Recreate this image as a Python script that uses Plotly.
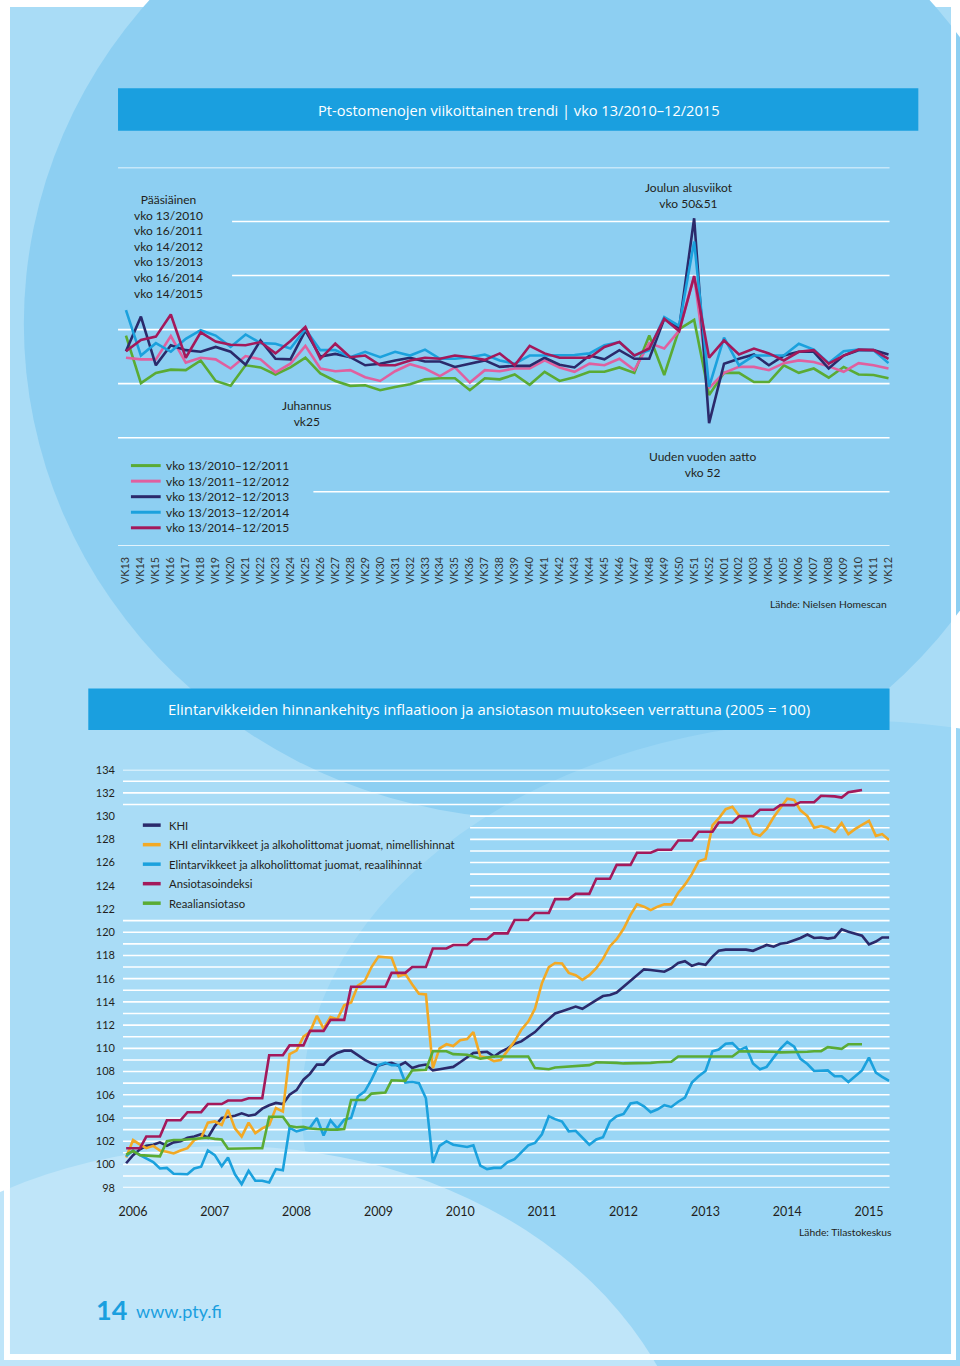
import plotly.graph_objects as go
import pandas as pd

W, H = 960, 1366


def fx(x):
    return x / W


def fy(y):
    return 1 - y / H


# ---------------- data: weekly trend (index, no axis values shown) ----------------
weeks = ["VK13", "VK14", "VK15", "VK16", "VK17", "VK18", "VK19", "VK20", "VK21", "VK22",
         "VK23", "VK24", "VK25", "VK26", "VK27", "VK28", "VK29", "VK30", "VK31", "VK32",
         "VK33", "VK34", "VK35", "VK36", "VK37", "VK38", "VK39", "VK40", "VK41", "VK42",
         "VK43", "VK44", "VK45", "VK46", "VK47", "VK48", "VK49", "VK50", "VK51", "VK52",
         "VK01", "VK02", "VK03", "VK04", "VK05", "VK06", "VK07", "VK08", "VK09", "VK10",
         "VK11", "VK12"]

wk_2010_11 = [98.9, 90.1, 92.0, 92.6, 92.5, 94.3, 90.5, 89.6, 93.4, 93.0, 91.7, 93.0, 94.8,
              91.9, 90.5, 89.6, 89.7, 88.8, 89.4, 89.9, 90.8, 91.0, 91.0, 88.8, 91.0, 90.8,
              91.7, 89.8, 92.2, 90.5, 91.2, 92.2, 92.2, 93.0, 92.0, 98.9, 91.6, 100.1, 101.8,
              87.9, 92.0, 92.0, 90.3, 90.3, 93.4, 92.0, 92.8, 91.1, 93.1, 91.7, 91.6, 91.0]
wk_2011_12 = [94.8, 94.5, 94.5, 98.8, 93.9, 94.8, 94.5, 92.8, 95.1, 94.5, 92.1, 93.7, 97.0,
              92.8, 92.3, 92.5, 91.2, 90.5, 92.3, 93.6, 92.8, 91.4, 93.0, 90.2, 92.5, 92.3,
              92.8, 92.8, 94.3, 93.0, 92.2, 93.7, 93.4, 94.6, 92.5, 97.5, 96.5, 99.8, 109.9,
              89.2, 92.0, 93.1, 93.1, 92.5, 93.8, 94.3, 94.0, 93.2, 92.2, 93.8, 93.4, 92.8]
wk_2012_13 = [96.0, 102.4, 93.4, 97.1, 96.2, 95.9, 96.8, 95.9, 93.5, 98.0, 94.6, 94.5, 99.8,
              95.0, 95.5, 94.9, 93.4, 93.7, 94.3, 94.8, 94.1, 94.1, 93.1, 93.7, 94.3, 93.1,
              93.3, 93.3, 94.8, 93.5, 93.0, 95.2, 94.5, 96.2, 94.6, 94.6, 102.0, 100.3, 120.6,
              82.7, 93.7, 94.6, 95.4, 93.4, 95.2, 95.9, 95.9, 92.8, 95.2, 96.2, 96.2, 95.4]
wk_2013_14 = [103.6, 95.2, 97.5, 95.9, 98.3, 99.9, 98.9, 96.8, 99.1, 97.5, 97.4, 96.5, 100.1,
              96.2, 96.2, 94.9, 95.9, 94.9, 95.9, 95.2, 96.3, 94.6, 94.6, 94.9, 95.4, 94.3,
              93.7, 95.2, 95.2, 95.2, 95.3, 95.6, 97.1, 97.7, 95.2, 96.2, 102.3, 100.7, 116.3,
              89.4, 98.5, 93.4, 95.2, 95.2, 95.2, 97.4, 96.3, 93.8, 96.0, 96.3, 96.2, 93.8]
wk_2014_15 = [96.0, 98.1, 98.7, 102.8, 94.8, 99.5, 97.8, 97.2, 97.1, 97.7, 95.6, 97.9, 100.5,
              94.6, 97.4, 94.9, 95.2, 93.4, 93.4, 94.3, 94.8, 94.6, 95.2, 94.9, 94.4, 95.6,
              93.4, 97.0, 95.6, 94.8, 94.8, 94.8, 96.8, 97.7, 95.2, 96.5, 102.0, 99.7, 109.9,
              94.8, 98.0, 95.4, 96.5, 95.6, 94.3, 95.9, 96.2, 93.7, 95.2, 96.3, 96.2, 94.6]

week_series = [
    ("vko 13/2010–12/2011", wk_2010_11, "#5aab34"),
    ("vko 13/2011–12/2012", wk_2011_12, "#e0609f"),
    ("vko 13/2012–12/2013", wk_2012_13, "#2b2a6b"),
    ("vko 13/2013–12/2014", wk_2013_14, "#1ba1dd"),
    ("vko 13/2014–12/2015", wk_2014_15, "#a3195b"),
]

# ---------------- data: monthly indices 2005 = 100 ----------------
month_start = "2005-12-01"
years = ["2006", "2007", "2008", "2009", "2010", "2011", "2012", "2013", "2014", "2015"]

khi = [100.1, 100.8, 101.3, 101.6, 101.7, 101.9, 101.6, 101.9, 102.0, 102.3, 102.4, 102.6,
       102.3, 103.3, 104.0, 104.1, 104.2, 104.4, 104.2, 104.3, 104.8, 105.1, 105.3, 105.2,
       106.0, 106.4, 107.3, 107.8, 108.6, 108.6, 109.25, 109.6, 109.8, 109.8, 109.4, 109.0,
       108.7, 108.5, 108.7, 108.75, 108.5, 108.8, 108.3, 108.5, 108.6, 108.1, 108.2, 108.3,
       108.4, 108.8, 109.25, 109.6, 109.65, 109.7, 109.3, 109.7, 110.0, 110.4, 110.6, 111.0,
       111.4, 112.0, 112.5, 113.0, 113.2, 113.4, 113.6, 113.4, 113.8, 114.15, 114.5, 114.6,
       114.8, 115.3, 115.8, 116.3, 116.8, 116.75, 116.7, 116.6, 116.9, 117.35, 117.5, 117.1,
       117.3, 117.2, 117.9, 118.4, 118.5, 118.5, 118.5, 118.5, 118.4, 118.65, 118.9, 118.75,
       119.0, 119.1, 119.3, 119.5, 119.8, 119.5, 119.55, 119.45, 119.55, 120.25, 120.05, 119.9,
       119.7, 118.95, 119.2, 119.55, 119.55]
food_nominal = [100.6, 102.1, 101.7, 101.4, 101.6, 101.2, 101.1, 100.95, 101.2, 101.4, 102.1,
                102.3, 103.6, 103.7, 103.4, 104.7, 103.1, 102.4, 103.6, 102.7, 103.1, 103.4,
                104.85, 104.55, 109.5, 109.8, 111.0, 111.4, 112.8, 111.7, 112.7, 112.5, 113.7,
                113.95, 115.4, 115.8, 117.0, 117.9, 117.85, 117.8, 116.2, 116.4, 115.5, 114.7,
                114.65, 108.3, 110.0, 110.35, 110.2, 110.7, 110.8, 111.4, 109.3, 109.2, 108.9,
                109.0, 109.8, 110.6, 111.6, 112.3, 113.4, 115.6, 117.0, 117.35, 117.3, 116.5,
                116.3, 115.9, 116.3, 116.9, 117.7, 118.8, 119.4, 120.3, 121.5, 122.4, 122.2,
                121.9, 122.2, 122.4, 122.4, 123.4, 124.1, 125.0, 126.1, 126.3, 129.2, 129.8,
                130.6, 130.8, 130.0, 129.8, 128.5, 128.3, 128.9, 129.9, 130.7, 131.5, 131.4,
                130.5, 130.0, 129.0, 129.15, 129.0, 128.65, 129.4, 128.45, 128.9, 129.25, 129.6,
                128.3, 128.45, 127.95]
food_real = [100.7, 101.2, 100.8, 100.5, 100.2, 99.65, 99.7, 99.2, 99.15, 99.15, 99.65, 99.8,
             101.2, 100.8, 99.85, 100.6, 99.15, 98.3, 99.45, 98.6, 98.6, 98.45, 99.6, 99.5,
             103.15, 102.85, 103.0, 103.15, 104.0, 102.5, 103.8, 103.1, 103.85, 104.0, 105.85,
             106.3, 107.3, 108.55, 108.75, 108.55, 108.55, 107.05, 107.1, 107.0, 105.7, 100.15,
             101.6, 102.0, 101.7, 101.6, 101.5, 101.65, 99.9, 99.6, 99.7, 99.7, 100.2, 100.45,
             101.05, 101.65, 101.85, 102.6, 104.15, 103.9, 103.7, 102.85, 102.9, 102.3, 101.7,
             102.15, 102.35, 103.7, 104.15, 104.35, 105.25, 105.35, 105.0, 104.5, 104.75, 105.1,
             104.95, 105.4, 105.75, 107.05, 107.6, 108.05, 109.75, 109.9, 110.4, 110.45, 109.85,
             110.1, 108.7, 108.2, 108.4, 109.2, 109.95, 110.55, 110.15, 109.1, 108.65, 108.05,
             108.05, 108.1, 107.6, 107.6, 107.1, 107.6, 108.1, 109.2, 107.9, 107.55, 107.2]
earnings = [101.4, 101.4, 101.4, 102.4, 102.4, 102.4, 103.8, 103.8, 103.8, 104.5, 104.5, 104.5,
            105.2, 105.2, 105.2, 105.5, 105.5, 105.5, 105.7, 105.7, 105.7, 109.4, 109.4, 109.4,
            110.25, 110.25, 110.25, 111.5, 111.5, 111.5, 112.45, 112.45, 112.45, 115.3, 115.3,
            115.3, 115.3, 115.3, 115.3, 116.5, 116.5, 116.5, 117.0, 117.0, 117.0, 118.6, 118.6,
            118.6, 118.9, 118.9, 118.9, 119.4, 119.4, 119.4, 119.9, 119.9, 119.9, 121.05, 121.05,
            121.05, 121.65, 121.65, 121.65, 122.85, 122.85, 122.85, 123.3, 123.3, 123.3, 124.6,
            124.6, 124.6, 125.8, 125.8, 125.8, 126.85, 126.85, 126.85, 127.1, 127.1, 127.1,
            127.9, 127.9, 127.9, 128.65, 128.65, 128.65, 129.45, 129.45, 129.45, 130.0, 130.0,
            130.0, 130.55, 130.55, 130.55, 130.95, 130.95, 130.95, 131.2, 131.2, 131.2, 131.75,
            131.75, 131.7, 131.6, 132.05, 132.15, 132.25]
real_earnings = [100.85, 101.15, 100.8, 100.75, 100.7, 100.7, 102.0, 102.1, 102.1, 102.15,
                 102.2, 102.25, 102.3, 102.2, 102.15, 101.35, 101.35, 101.35, 101.4, 101.4,
                 101.4, 104.1, 104.1, 104.1, 103.3, 103.2, 103.25, 103.1, 103.05, 103.0, 103.0,
                 103.0, 103.05, 105.55, 105.55, 105.55, 106.1, 106.15, 106.2, 107.25, 107.2,
                 107.2, 108.1, 108.15, 108.15, 109.75, 109.75, 109.75, 109.5, 109.5, 109.45,
                 109.3, 109.1, 109.2, 109.3, 109.3, 109.3, 109.3, 109.3, 109.3, 108.3, 108.25,
                 108.2, 108.35, 108.4, 108.4, 108.45, 108.5, 108.55, 108.8, 108.8, 108.8, 108.75,
                 108.7, 108.7, 108.7, 108.75, 108.75, 108.8, 108.8, 108.85, 109.3, 109.3, 109.3,
                 109.3, 109.3, 109.3, 109.3, 109.3, 109.3, 109.75, 109.75, 109.75, 109.75, 109.7,
                 109.7, 109.65, 109.65, 109.65, 109.7, 109.7, 109.75, 109.75, 110.1, 110.05,
                 109.95, 110.35, 110.35, 110.35]

month_series = [
    ("KHI", khi, "#2b2a6b"),
    ("KHI elintarvikkeet ja alkoholittomat juomat, nimellishinnat", food_nominal, "#f2a925"),
    ("Elintarvikkeet ja alkoholittomat juomat, reaalihinnat", food_real, "#1ba1dd"),
    ("Ansiotasoindeksi", earnings, "#a3195b"),
    ("Reaaliansiotaso", real_earnings, "#5aab34"),
]

fig = go.Figure()

for name, vals, col in week_series:
    fig.add_trace(go.Scatter(x=weeks, y=vals, mode="lines", name=name,
                             line=dict(color=col, width=2.6), xaxis="x", yaxis="y",
                             showlegend=False, hoverinfo="skip"))

for name, vals, col in month_series:
    dates = pd.date_range(month_start, periods=len(vals), freq="MS")
    fig.add_trace(go.Scatter(x=dates, y=vals, mode="lines", name=name,
                             line=dict(color=col, width=2.6), xaxis="x2", yaxis="y2",
                             showlegend=False, hoverinfo="skip"))

TXT = "#231f20"
BODY = "Lato"

shapes = []
# page background
shapes.append(dict(type="rect", xref="paper", yref="paper", x0=fx(6), x1=fx(955), y0=fy(1360), y1=1,
                   fillcolor="#a9dcf6", line=dict(width=0), layer="below"))
shapes.append(dict(type="circle", xref="paper", yref="paper", x0=fx(20), x1=fx(1060), y0=fy(820),
                   y1=fy(-180), fillcolor="#8dcff2", line=dict(width=0), layer="below"))
shapes.append(dict(type="circle", xref="paper", yref="paper", x0=fx(300), x1=fx(1400), y0=fy(1500),
                   y1=fy(720), fillcolor="#9ad6f5", line=dict(width=0), layer="below"))
shapes.append(dict(type="circle", xref="paper", yref="paper", x0=fx(-250), x1=fx(700), y0=fy(1900),
                   y1=fy(1150), fillcolor="#bfe5f9", line=dict(width=0), layer="below"))
shapes.append(dict(type="rect", xref="paper", yref="paper", x0=0, x1=fx(6), y0=0, y1=1,
                   fillcolor="white", line=dict(width=0), layer="below"))
shapes.append(dict(type="rect", xref="paper", yref="paper", x0=fx(955), x1=1, y0=0, y1=1,
                   fillcolor="white", line=dict(width=0), layer="below"))
shapes.append(dict(type="rect", xref="paper", yref="paper", x0=0, x1=1, y0=0, y1=fy(1360),
                   fillcolor="white", line=dict(width=0), layer="below"))

# banners
BANNER = "#1a9fdf"
shapes.append(dict(type="rect", xref="paper", yref="paper", x0=fx(115), x1=fx(922), y0=fy(125),
                   y1=fy(82), fillcolor=BANNER, line=dict(width=0), layer="below"))
shapes.append(dict(type="rect", xref="paper", yref="paper", x0=fx(85), x1=fx(893), y0=fy(730),
                   y1=fy(688), fillcolor=BANNER, line=dict(width=0), layer="below"))

# top grid lines (some hidden behind text blocks)
top_grid = [(130, 115), (120, 230), (110, 230), (100, 115), (90, 115), (80, 115), (70, 312), (60, 115)]
for v, xs in top_grid:
    shapes.append(dict(type="line", xref="paper", yref="y", x0=fx(xs), x1=fx(893), y0=v, y1=v,
                       line=dict(color="white", width=1.6), layer="below"))
# bottom grid lines
for v in range(98, 135):
    xs = 470 if 122 <= v <= 130 else 120
    shapes.append(dict(type="line", xref="paper", yref="y2", x0=fx(xs), x1=fx(893), y0=v, y1=v,
                       line=dict(color="white", width=1.6), layer="below"))

annotations = []


def ann(x, y, text, size=12, color=TXT, xanchor="center", family=BODY, yanchor="middle"):
    annotations.append(dict(x=fx(x), y=fy(y), xref="paper", yref="paper", text=text,
                            showarrow=False, xanchor=xanchor, yanchor=yanchor,
                            align=xanchor if xanchor != "center" else "center",
                            font=dict(size=size, color=color, family=family)))


ann(519, 104, "Pt-ostomenojen viikoittainen trendi | vko 13/2010–12/2015", size=14.6, color="white",
    family="Open Sans")
ann(489, 709, "Elintarvikkeiden hinnankehitys inflaatioon ja ansiotason muutokseen verrattuna (2005 = 100)",
    size=14.9, color="white", family="Open Sans")

ann(166, 242, "Pääsiäinen<br>vko 13/2010<br>vko 16/2011<br>vko 14/2012<br>vko 13/2013<br>vko 16/2014<br>vko 14/2015",
    size=12)
ann(691, 190, "Joulun alusviikot<br>vko 50&51", size=12)
ann(306, 410, "Juhannus<br>vk25", size=12)
ann(704, 462, "Uuden vuoden aatto<br>vko 52", size=12)
ann(892, 603, "Lähde: Nielsen Homescan", size=10.3, xanchor="right")
ann(897, 1237, "Lähde: Tilastokeskus", size=10.3, xanchor="right")

# top legend
for i, (name, vals, col) in enumerate(week_series):
    yy = 463 + i * 15.7
    shapes.append(dict(type="line", xref="paper", yref="paper", x0=fx(128), x1=fx(158), y0=fy(yy), y1=fy(yy),
                       line=dict(color=col, width=3)))
    ann(161, yy, name, size=12, xanchor="left")

# bottom legend
for i, (name, vals, col) in enumerate(month_series):
    yy = 826 + i * 19.7
    shapes.append(dict(type="line", xref="paper", yref="paper", x0=fx(140), x1=fx(158), y0=fy(yy), y1=fy(yy),
                       line=dict(color=col, width=3.5)))
    ann(164, yy, name, size=11.3, xanchor="left")

# footer
ann(91, 1315, "<b>14</b>", size=27, color="#1a9fdf", xanchor="left", family="Lato")
ann(131, 1317, "www.pty.fi", size=18, color="#1a9fdf", xanchor="left", family="Lato")

fig.update_layout(
    width=W, height=H,
    margin=dict(l=0, r=0, t=0, b=0),
    paper_bgcolor="white",
    plot_bgcolor="rgba(0,0,0,0)",
    shapes=shapes,
    annotations=annotations,
    showlegend=False,
    font=dict(family=BODY, color=TXT),
    xaxis=dict(domain=[fx(115), fx(893)], type="category", range=[-0.53, 51.07],
               showgrid=False, zeroline=False, showline=False, ticks="",
               tickangle=-90, tickfont=dict(size=10.8, color="#333333", family=BODY),
               ticklabelstandoff=8, anchor="y"),
    yaxis=dict(domain=[fy(544), fy(162)], range=[60, 130], showgrid=False, zeroline=False,
               showticklabels=False, showline=False, anchor="x"),
    xaxis2=dict(domain=[fx(120), fx(893)], type="date", range=["2005-11-17", "2015-04-03"],
                tickvals=[f"{y}-01-01" for y in years], ticktext=years,
                showgrid=False, zeroline=False, showline=False, ticks="",
                tickfont=dict(size=12.5, color=TXT, family=BODY), ticklabelstandoff=15, anchor="y2"),
    yaxis2=dict(domain=[fy(1192), fy(770)], range=[98, 134], tickvals=list(range(98, 135, 2)),
                showgrid=False, zeroline=False, showline=False, ticks="",
                tickfont=dict(size=11, color=TXT, family=BODY), ticklabelstandoff=7, anchor="x2"),
)

fig.write_html("out.html", config={"displayModeBar": False},
               post_script="document.body.style.margin='0';document.body.style.padding='0';"
                           "document.documentElement.style.overflow='hidden';")
